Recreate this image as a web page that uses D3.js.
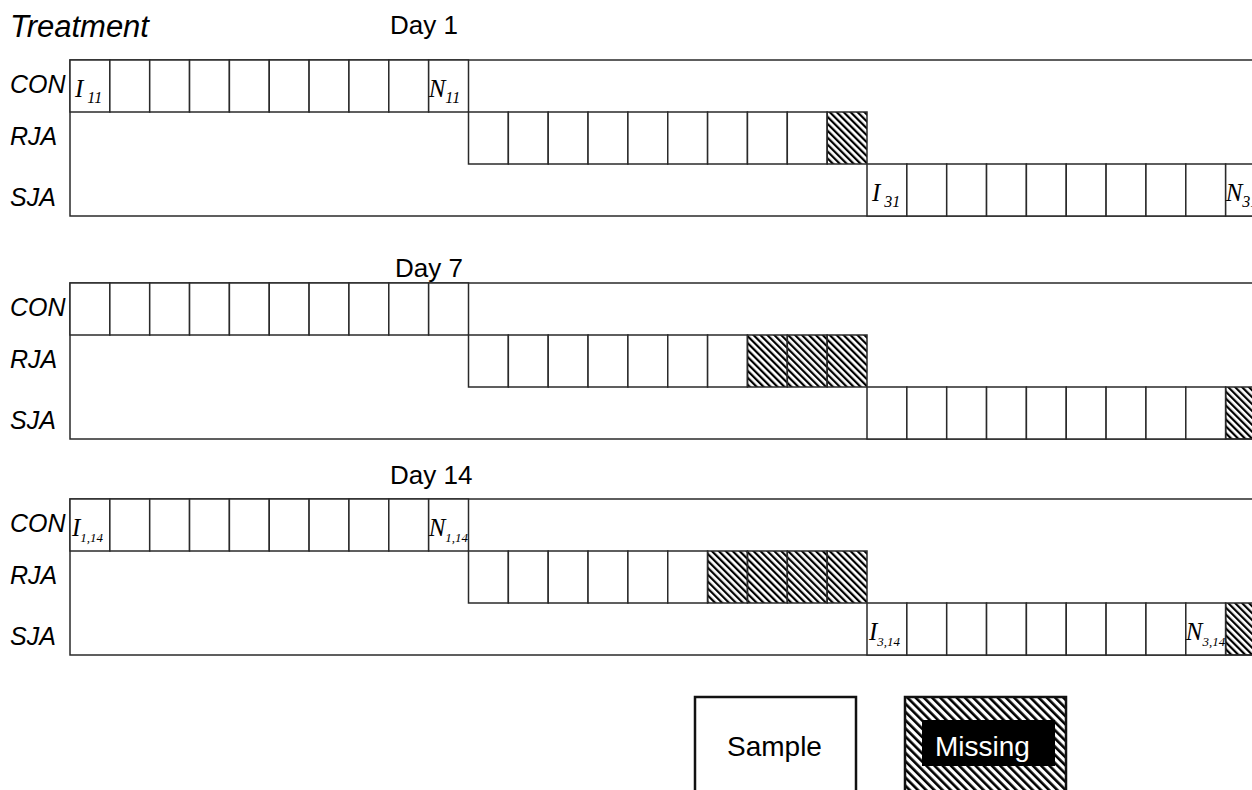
<!DOCTYPE html>
<html>
<head>
<meta charset="utf-8">
<script src="https://cdn.jsdelivr.net/npm/d3@7"></script>
<style>
    body { margin: 0; background: #fff; }
    svg { display: block; }
</style>
</head>
<body>
<main></main>
<script>
// ---- data ----
const days = ["Day 1", "Day 7", "Day 14"];
const treatments = ["CON", "RJA", "SJA"];
const samplesPerGroup = 10;
// number of missing samples (hatched, at the end of each group) per day
const missingCON = [0, 0, 0];
const missingRJA = [1, 3, 4];
const missingSJA = [0, 1, 1];
// cell annotations: which cell (0-based inside its group) and the text
const labelDays = ["Day 1", "Day 1", "Day 1", "Day 1", "Day 14", "Day 14", "Day 14", "Day 14"];
const labelTreatments = ["CON", "CON", "SJA", "SJA", "CON", "CON", "SJA", "SJA"];
const labelCells = [0, 9, 0, 9, 0, 9, 0, 8];
const labelMain = ["I", "N", "I", "N", "I", "N", "I", "N"];
const labelSubs = ["11", "11", "31", "31", "1,14", "1,14", "3,14", "3,14"];
const legendItems = ["Sample", "Missing"];

// ---- layout ----
const svgSize = {
    width: 1252,
    height: 790
};

const panel = {
    left: 70,
    height: 156,
    tops: [60, 283, 499],
    titleX: [390, 395, 390],
    titleY: [34, 277, 484]
};

const rowLabelOffset = [33, 33, 42];

const missingByTreatment = {CON: missingCON, RJA: missingRJA, SJA: missingSJA};

const createCanvas = () => {
    return d3.select("main")
            .append("svg")
            .attr("width", svgSize.width)
            .attr("height", svgSize.height);
};

const defineHatch = (svg, id, size) => {
    svg.append("defs")
        .append("pattern")
        .attr("id", id)
        .attr("patternUnits", "userSpaceOnUse")
        .attr("width", size)
        .attr("height", size)
        .attr("patternTransform", "rotate(-45)")
        .append("rect")
        .attr("x", 0)
        .attr("y", 0)
        .attr("width", size * 0.45)
        .attr("height", size)
        .attr("fill", "#000");
};

const defineScales = () => {
    // one unit = one sample cell, 3 groups of 10 placed in a staircase
    const xScale = d3.scaleLinear()
                    .domain([0, samplesPerGroup * 2])
                    .range([panel.left, 867]);

    const dayScale = d3.scaleOrdinal()
                    .domain(days)
                    .range(panel.tops);

    const rowScale = d3.scaleBand()
                    .domain(treatments)
                    .range([0, panel.height]);

    return {xScale, dayScale, rowScale};
};

const createTitles = (svg) => {
    svg.append("text")
        .attr("x", 10)
        .attr("y", 37)
        .style("font-family", "'Liberation Sans', Arial, sans-serif")
        .style("font-style", "italic")
        .style("font-size", "31px")
        .text("Treatment");

    svg.selectAll(".day-title")
        .data(days)
        .enter()
        .append("text")
        .attr("class", "day-title")
        .attr("x", (d, i) => panel.titleX[i])
        .attr("y", (d, i) => panel.titleY[i])
        .style("font-family", "'Liberation Sans', Arial, sans-serif")
        .style("font-size", "26px")
        .text((d) => d);
};

const createPanels = (svg, scales) => {
    const {xScale, dayScale, rowScale} = scales;
    const cellW = xScale(1) - xScale(0);

    days.forEach((day, di) => {
        const g = svg.append("g")
                    .attr("class", "panel")
                    .attr("transform", `translate(0, ${dayScale(day)})`);

        // outer frame, runs off the right edge like the original
        g.append("rect")
            .attr("x", xScale(0))
            .attr("y", 0)
            .attr("width", xScale(samplesPerGroup * 3) - xScale(0))
            .attr("height", rowScale.bandwidth() * treatments.length)
            .attr("fill", "none")
            .attr("stroke", "#2a2a2a")
            .attr("stroke-width", 1.5);

        g.selectAll(".row-label")
            .data(treatments)
            .enter()
            .append("text")
            .attr("class", "row-label")
            .attr("x", 10)
            .attr("y", (d, i) => rowScale(d) + rowLabelOffset[i])
            .style("font-family", "'Liberation Sans', Arial, sans-serif")
            .style("font-style", "italic")
            .style("font-size", "25px")
            .text((d) => d);

        const cells = [];
        treatments.forEach((trt, ti) => {
            const missing = missingByTreatment[trt][di];
            d3.range(samplesPerGroup).forEach((i) => {
                cells.push({
                    trt: trt,
                    pos: ti * samplesPerGroup + i,
                    missing: i >= samplesPerGroup - missing
                });
            });
        });

        g.selectAll(".cell")
            .data(cells)
            .enter()
            .append("rect")
            .attr("class", "cell")
            .attr("x", (d) => xScale(d.pos))
            .attr("y", (d) => rowScale(d.trt))
            .attr("width", cellW)
            .attr("height", rowScale.bandwidth())
            .attr("fill", (d) => d.missing ? "url(#hatch)" : "#fff")
            .attr("stroke", "#2a2a2a")
            .attr("stroke-width", 1.5);

        const labels = labelDays
            .map((d, i) => ({day: d, trt: labelTreatments[i], cell: labelCells[i], main: labelMain[i], sub: labelSubs[i]}))
            .filter((l) => l.day === day);

        const txt = g.selectAll(".cell-label")
            .data(labels)
            .enter()
            .append("text")
            .attr("class", "cell-label")
            .attr("x", (d) => xScale(treatments.indexOf(d.trt) * samplesPerGroup + d.cell) + (d.main === "I" ? (d.sub.length > 2 ? 2 : 5) : 0))
            .attr("y", (d) => rowScale(d.trt) + 37)
            .style("font-family", "'Liberation Serif', 'Times New Roman', serif")
            .style("font-style", "italic");

        txt.append("tspan")
            .style("font-size", "25px")
            .text((d) => d.main);

        txt.append("tspan")
            .attr("dx", (d) => d.main === "I" && d.sub.length <= 2 ? 4 : 0)
            .attr("dy", 6)
            .style("font-size", (d) => d.sub.length > 2 ? "13px" : "16px")
            .text((d) => d.sub);
    });
};

const createLegend = (svg) => {
    const legendX = d3.scalePoint()
                    .domain(legendItems)
                    .range([695, 905]);

    const item = svg.selectAll(".legend")
        .data(legendItems)
        .enter()
        .append("g")
        .attr("class", "legend")
        .attr("transform", (d) => `translate(${legendX(d)}, 697)`);

    item.append("rect")
        .attr("width", 161)
        .attr("height", 130)
        .attr("fill", (d) => d === "Missing" ? "url(#hatch-big)" : "#fff")
        .attr("stroke", "#111")
        .attr("stroke-width", 2.5);

    item.filter((d) => d === "Missing")
        .append("rect")
        .attr("x", 17)
        .attr("y", 23)
        .attr("width", 133)
        .attr("height", 46)
        .attr("fill", "#000");

    item.append("text")
        .attr("x", (d) => d === "Missing" ? 30 : 32)
        .attr("y", 59)
        .attr("fill", (d) => d === "Missing" ? "#fff" : "#000")
        .style("font-family", "'Liberation Sans', Arial, sans-serif")
        .style("font-size", "28px")
        .text((d) => d);
};

const driver = () => {
    const svg = createCanvas();
    defineHatch(svg, "hatch", 4.9);
    defineHatch(svg, "hatch-big", 5.8);
    const scales = defineScales();
    createTitles(svg);
    createPanels(svg, scales);
    createLegend(svg);
};

driver();
</script>
</body>
</html>
